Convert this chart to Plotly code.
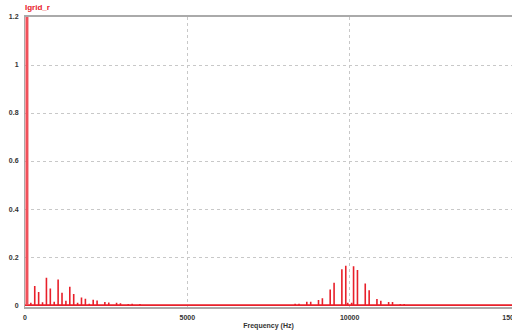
import plotly.graph_objects as go

# Spectrum data (Hz, amplitude)
fund_freq = [60]
fund_amp = [1.3]

low_freqs = [180, 300, 420, 540, 660, 780, 900, 1020, 1140, 1260, 1380, 1500, 1620,
             1740, 1860, 1980, 2100, 2220, 2460, 2580, 2820, 2940, 3180, 3300,
             3540, 3780, 4260, 4500]
low_amps = [0.010, 0.079, 0.054, 0.012, 0.114, 0.069, 0.014, 0.107, 0.051, 0.018,
            0.076, 0.046, 0.010, 0.032, 0.026, 0.006, 0.022, 0.019, 0.013, 0.011,
            0.010, 0.008, 0.004, 0.006, 0.004, 0.003, 0.003, 0.002]

high_freqs = [8320, 8440, 8680, 8800, 9040, 9160, 9400, 9520, 9760, 9880, 9940,
              10060, 10120, 10240, 10480, 10600, 10840, 10960, 11200, 11320, 11560, 11680]
high_amps = [0.006, 0.006, 0.014, 0.014, 0.021, 0.028, 0.065, 0.093, 0.149, 0.164, 0.010,
             0.010, 0.162, 0.146, 0.090, 0.062, 0.025, 0.018, 0.0125, 0.0125, 0.004, 0.004]

x_ticks = [0, 5000, 10000, 15000]
y_ticks = [0, 0.2, 0.4, 0.6, 0.8, 1, 1.2]
y_tick_labels = ["0", "0.2", "0.4", "0.6", "0.8", "1", "1.2"]

freqs = low_freqs + high_freqs
amps = low_amps + high_amps

# build stem polyline
xs, ys = [0], [0]
for f, a in sorted(zip(freqs, amps)):
    xs += [f, f, f]
    ys += [0, a, 0]
xs += [15000]
ys += [0]

fig = go.Figure()
fig.add_trace(go.Scatter(x=xs, y=ys, mode="lines",
                         line=dict(color="#e8202a", width=1.6), hoverinfo="skip"))
fig.add_trace(go.Scatter(x=[fund_freq[0], fund_freq[0]], y=[0, fund_amp[0]], mode="lines",
                         line=dict(color="#f0505a", width=3), hoverinfo="skip"))

tick_font = dict(family="Liberation Sans", size=7, color="#333333", weight="bold")

fig.update_layout(
    width=512, height=331,
    margin=dict(l=25, r=0, t=17, b=24, autoexpand=False),
    paper_bgcolor="white", plot_bgcolor="white",
    showlegend=False,
    title=dict(text="Igrid_r", x=25/512, xanchor="left", y=1 - 7/331, yanchor="middle",
               automargin=False,
               font=dict(family="Liberation Sans", size=8, color="#e8202a", weight="bold")),
    xaxis=dict(range=[0, 15000], tickvals=x_ticks, ticktext=[str(v) for v in x_ticks],
               automargin=False, ticklabeloverflow="allow", ticklabelstandoff=3,
               showgrid=True, gridcolor="#c8c8c8", griddash="dot", gridwidth=1,
               showline=True, linecolor="#aaaaaa", linewidth=2, mirror=True,
               zeroline=False, ticks="", tickfont=tick_font,
               title=dict(text="Frequency (Hz)", standoff=3,
                          font=dict(family="Liberation Sans", size=7, color="#333333", weight="bold"))),
    yaxis=dict(range=[-0.008, 1.2], tickvals=y_ticks, ticktext=y_tick_labels,
               automargin=False,
               showgrid=True, gridcolor="#c8c8c8", griddash="dot", gridwidth=1,
               showline=True, linecolor="#aaaaaa", linewidth=1, mirror=True,
               zeroline=False, ticks="", tickfont=tick_font, ticklabelstandoff=4),
)

fig.write_html("out.html", config={"displayModeBar": False},
               post_script="document.body.style.margin='0';")
